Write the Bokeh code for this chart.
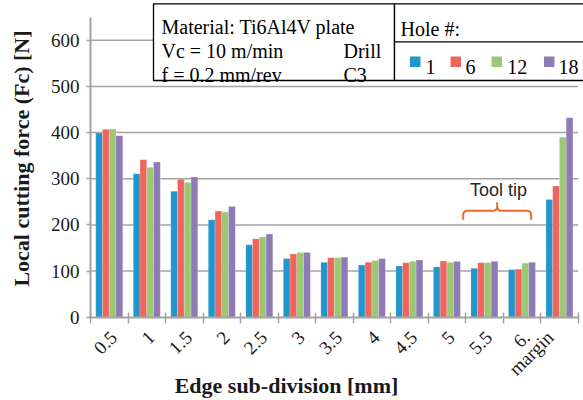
import numpy as np
from bokeh.plotting import figure
from bokeh.models import Range1d, FixedTicker, LinearAxis, ColumnDataSource
from bokeh.core.properties import value
from bokeh.embed import file_html
from bokeh.resources import INLINE

# ---------------- data ----------------
categories = ["0.5", "1", "1.5", "2", "2.5", "3", "3.5", "4", "4.5", "5", "5.5", "6.", "margin"]
hole_names = ["1", "6", "12", "18"]
hole_1 = [399, 311, 273, 211, 157, 127, 119, 113, 111, 109, 106, 103, 255]
hole_6 = [407, 341, 299, 230, 170, 137, 129, 119, 118, 122, 118, 104, 284]
hole_12 = [408, 325, 292, 228, 174, 140, 129, 123, 121, 119, 118, 117, 390]
hole_18 = [393, 336, 304, 240, 180, 140, 130, 127, 124, 121, 121, 119, 432]
y_ticks = [0, 100, 200, 300, 400, 500, 600]
y_axis_max = 650
colors = ["#2196cd", "#f0645e", "#9bc873", "#8e7ab4"]

series = [hole_1, hole_6, hole_12, hole_18]

# ---------------- layout (canvas pixels) ----------------
W, H = 583, 400
n = len(categories)
AX_LEFT, AX_RIGHT = 90.0, 577.7      # x of x-axis ends
AX_ZERO, AX_TOP = 316.7, 16.7        # y of value 0 and value 650
sx = (AX_RIGHT - AX_LEFT) / n
sy = (AX_ZERO - AX_TOP) / y_axis_max


def dx(px):
    return (px - AX_LEFT) / sx


def dy(py):
    return (AX_ZERO - py) / sy


serif = "Liberation Serif"
grey = "#a3a3a3"
ink = "#1a1a1a"

p = figure(width=W, height=H, output_backend="svg", toolbar_location=None,
           x_range=Range1d(dx(0), dx(W)), y_range=Range1d(dy(H), dy(0)),
           x_axis_location=None, y_axis_location=None,
           min_border_left=0, min_border_right=0, min_border_top=0,
           min_border_bottom=0)
p.outline_line_color = None
p.background_fill_color = "white"
p.xgrid.grid_line_color = None
p.ygrid.grid_line_color = None

# horizontal grid lines at the y ticks, spanning the category axis
p.segment(x0=[0] * (len(y_ticks) - 1), x1=[n] * (len(y_ticks) - 1),
          y0=y_ticks[1:], y1=y_ticks[1:], line_color=grey, line_width=1.5)

# bars
width = 0.18
offsets = [-1.5 * width, -0.5 * width, 0.5 * width, 1.5 * width]
for vals, off, col in zip(series, offsets, colors):
    src = ColumnDataSource(dict(x=[i + 0.5 + off for i in range(n)], top=vals))
    p.vbar(x="x", top="top", width=width, bottom=0, source=src,
           fill_color=col, line_color="white", line_alpha=0.35, line_width=0.6)

# x axis (drawn at y = 0); labels anchored slightly right of each group centre
label_shift = [0.12] * (n - 1) + [-0.25]
label_pos = [i + 0.5 + s for i, s in enumerate(label_shift)]
xaxis = LinearAxis(fixed_location=0)
xaxis.ticker = FixedTicker(ticks=label_pos,
                           minor_ticks=[float(i) for i in range(n + 1)])
xaxis.major_label_overrides = {v: c for v, c in zip(label_pos, categories)}
xaxis.major_tick_line_color = None
xaxis.minor_tick_line_color = grey
xaxis.minor_tick_line_width = 1.5
xaxis.minor_tick_in = 5
xaxis.minor_tick_out = 6
xaxis.axis_line_color = grey
xaxis.axis_line_width = 2
xaxis.bounds = (0, n)
xaxis.major_label_orientation = np.pi / 4
xaxis.major_label_text_font = serif
xaxis.major_label_text_font_size = "19px"
xaxis.major_label_text_color = ink
xaxis.major_label_standoff = 11
p.add_layout(xaxis, "below")

# y axis (drawn at x = 0)
yaxis = LinearAxis(fixed_location=0)
yaxis.ticker = FixedTicker(ticks=y_ticks)
yaxis.bounds = (0, y_axis_max)
yaxis.axis_line_color = grey
yaxis.axis_line_width = 2
yaxis.major_tick_line_color = grey
yaxis.major_tick_line_width = 1.5
yaxis.major_tick_in = 0
yaxis.major_tick_out = 4
yaxis.minor_tick_line_color = None
yaxis.major_label_text_font = serif
yaxis.major_label_text_font_size = "19px"
yaxis.major_label_text_color = ink
yaxis.major_label_standoff = 7
p.add_layout(yaxis, "left")

# axis titles
p.text(x=[dx(21)], y=[dy(158)], text=["Local cutting force (Fc) [N]"], angle=np.pi / 2,
       text_align="center", text_baseline="middle", text_font=value(serif),
       text_font_style="bold", text_font_size="22px", text_color=ink)
p.text(x=[dx(286)], y=[dy(385)], text=["Edge sub-division [mm]"],
       text_align="center", text_baseline="middle", text_font=value(serif),
       text_font_style="bold", text_font_size="22px", text_color=ink)

# info boxes (white filled, black border)
box_top = dy(3.3)
box_bot = dy(80)
p.quad(left=[dx(153), dx(394)], right=[dx(394), dx(620)],
       top=[box_top, box_top], bottom=[box_bot, box_bot],
       fill_color="white", line_color="black", line_width=1.3)
p.segment(x0=[dx(394)], y0=[dy(41.3)], x1=[dx(620)], y1=[dy(41.3)],
          line_color="black", line_width=1.3)

info_text = ["Material: Ti6Al4V plate", "Vc = 10 m/min", "f = 0.2 mm/rev", "Drill", "C3", "Hole #:"]
info_px = [(161, 26.5), (161, 50.5), (161, 74), (343, 50.5), (343, 74), (400, 28)]
p.text(x=[dx(a) for a, b in info_px], y=[dy(b) for a, b in info_px], text=info_text,
       text_font=value(serif), text_font_size="20px", text_color="black",
       text_align="left", text_baseline="alphabetic")

# legend entries
leg_sq_px = [414.7, 455.3, 496.3, 548.7]
leg_lab_px = [425, 465, 506.7, 558]
p.scatter(x=[dx(v) for v in leg_sq_px], y=[dy(61.3)] * 4, marker="square",
          size=10.5, fill_color=colors, line_color=None)
p.text(x=[dx(v) for v in leg_lab_px], y=[dy(66.5)] * 4, text=hole_names,
       text_font=value(serif), text_font_size="20px", text_color="black",
       text_align="left", text_baseline="alphabetic")

# Tool tip bracket
x0, x1 = 462.7, 530.7
xm = (x0 + x1) / 2
y_end, y_h, y_tip = 219.3, 210.3, 201.7
r = 4.0
t = np.linspace(0, np.pi / 2, 8)
pts = [(x0, y_end)]
pts += list(zip(x0 + r - r * np.cos(t), y_h + r - r * np.sin(t)))
pts += list(zip(xm - r + r * np.sin(t), y_h - r + r * np.cos(t)))
pts += [(xm, y_tip)]
pts_r = [(2 * xm - a, b) for a, b in reversed(pts[:-1])]
pts_all = pts + pts_r
p.line(x=[dx(a) for a, b in pts_all], y=[dy(b) for a, b in pts_all],
       line_color="#ef6a2c", line_width=2)
p.text(x=[dx(498)], y=[dy(189)], text=["Tool tip"], text_align="center",
       text_baseline="middle", text_font=value("Liberation Sans"),
       text_font_size="18px", text_color="#262626")

open("out.html", "w").write(file_html(p, INLINE))
